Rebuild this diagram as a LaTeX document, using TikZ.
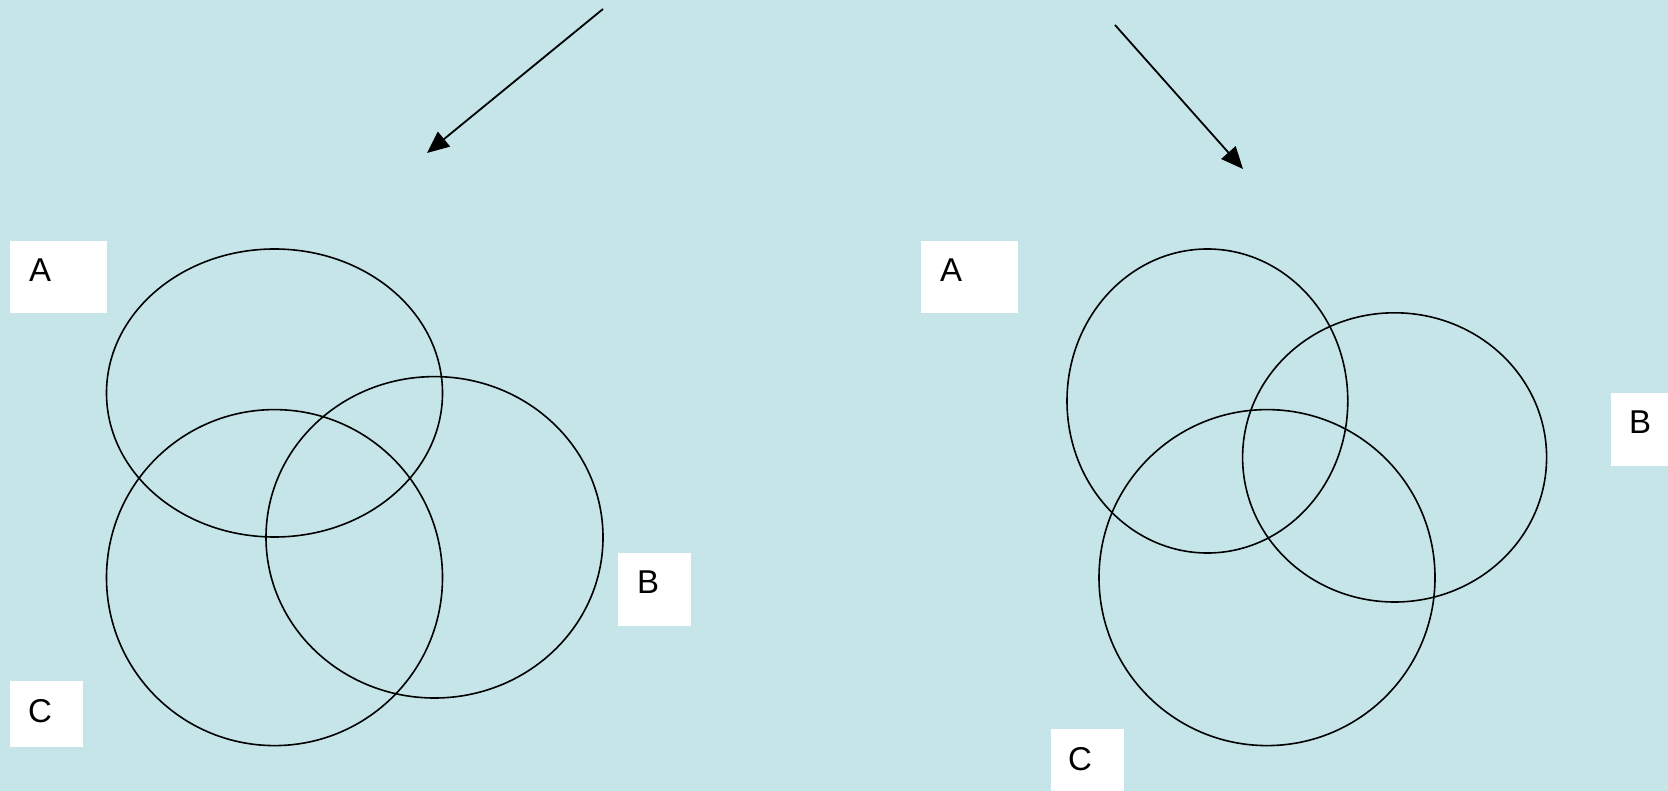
\documentclass[tikz,border=0pt]{standalone}
\usepackage{fontspec}
\setmainfont{Liberation Sans}
\usetikzlibrary{arrows.meta}
\definecolor{bgc}{RGB}{197,229,232}
\begin{document}
\begin{tikzpicture}[x=1pt,y=-1pt,
  ring/.style={draw=black,line width=1.6pt},
  lblbox/.style={fill=white,draw=none,inner sep=0pt,anchor=north west},
  lbl/.style={anchor=base west,inner sep=0pt,font=\fontsize{33}{38}\selectfont},
  pointer/.style={draw=black,line width=1.8pt,-{Triangle[length=22pt,width=19pt]}}]
\fill[bgc] (0,0) rectangle (1668,791);
\useasboundingbox (0,0) rectangle (1668,791);
% left diagram
\draw[ring] (274.5,393) ellipse [x radius=168, y radius=144];
\draw[ring] (274.5,577.6) ellipse [x radius=168, y radius=168];
\draw[ring] (434.5,537.3) ellipse [x radius=168.5, y radius=160.7];
\node[lblbox,minimum width=97pt,minimum height=72pt] (boxAL) at (10,241) {};
\node[lbl] (tAL) at (29,282) {A};
\node[lblbox,minimum width=73pt,minimum height=73pt] (boxBL) at (618,553) {};
\node[lbl] (tBL) at (637,593) {B};
\node[lblbox,minimum width=73pt,minimum height=66pt] (boxCL) at (10,681) {};
\node[lbl] (tCL) at (28,722) {C};
\coordinate (s1) at (603,9);
\coordinate (e1) at (427,153);
\draw[pointer] (s1) -- (e1);
% right diagram
\draw[ring] (1207.4,401) ellipse [x radius=140.4, y radius=152];
\draw[ring] (1394.6,457.4) ellipse [x radius=152, y radius=144.6];
\draw[ring] (1267,577.6) ellipse [x radius=168, y radius=168];
\node[lblbox,minimum width=97pt,minimum height=72pt] (boxAR) at (921,241) {};
\node[lbl] (tAR) at (940,282) {A};
\node[lblbox,minimum width=57pt,minimum height=73pt] (boxBR) at (1611,393) {};
\node[lbl] (tBR) at (1629,433) {B};
\node[lblbox,minimum width=73pt,minimum height=62pt] (boxCR) at (1051,729) {};
\node[lbl] (tCR) at (1068,770) {C};
\coordinate (s2) at (1115,25);
\coordinate (e2) at (1243,169);
\draw[pointer] (s2) -- (e2);
\end{tikzpicture}
\end{document}
